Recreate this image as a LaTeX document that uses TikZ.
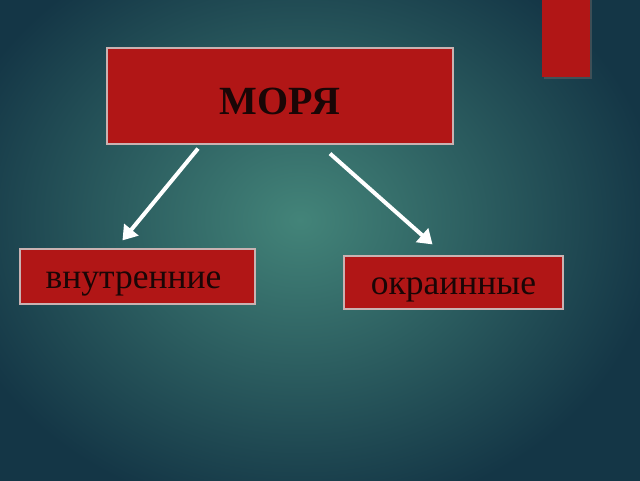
\documentclass[tikz,border=0pt]{standalone}
\usepackage{fontspec}
\setmainfont{Liberation Serif}
\usetikzlibrary{arrows.meta}
\definecolor{boxred}{HTML}{B11616}
\definecolor{boxline}{HTML}{C9B2B2}
\definecolor{boxtext}{HTML}{1A0606}
\definecolor{bginner}{HTML}{438479}
\definecolor{bgouter}{HTML}{143646}
\tikzset{
  redbox/.style={draw=boxline, line width=1.2pt, fill=boxred, text=boxtext, inner sep=0pt, text depth=0pt},
  whitearrow/.style={draw=white, line width=4pt, -{Triangle[length=14pt,width=18pt]}}
}

\begin{document}
\begin{tikzpicture}[x=1pt, y=-1pt]
			%%%%% START %%%%%
			
			\clip (0, 0) rectangle (640, 480);
			\shade[inner color=bginner, outer color=bgouter] (-60, -80) rectangle (660, 520);
			
			\fill[black!60, opacity=0.5] (544, 0) rectangle (592, 79);
			\fill[boxred] (542, 0) rectangle (590, 77);
			
			\node[redbox, minimum width=346pt, minimum height=96pt, text height=36pt] (sea) at (280, 96) {\fontsize{40}{44}\selectfont\bfseries МОРЯ};
			\node[redbox, minimum width=235pt, minimum height=55pt, text height=23.5pt] (inland) at (137.5, 276.5) {\fontsize{35.5}{38}\selectfont внутренние\kern8pt};
			\node[redbox, minimum width=219pt, minimum height=53pt, text height=23pt] (marginal) at (453.5, 282.5) {\fontsize{35.5}{38}\selectfont окраинные};
			
			\draw[whitearrow] ([xshift=-82pt, yshift=-4pt]sea.south) -- ([xshift=-15pt, yshift=8pt]inland.north);
			\draw[whitearrow] ([xshift=50pt, yshift=-9pt]sea.south) -- ([xshift=-21pt, yshift=11pt]marginal.north);
			
			%%%%% END %%%%%
		\end{tikzpicture}
\end{document}
